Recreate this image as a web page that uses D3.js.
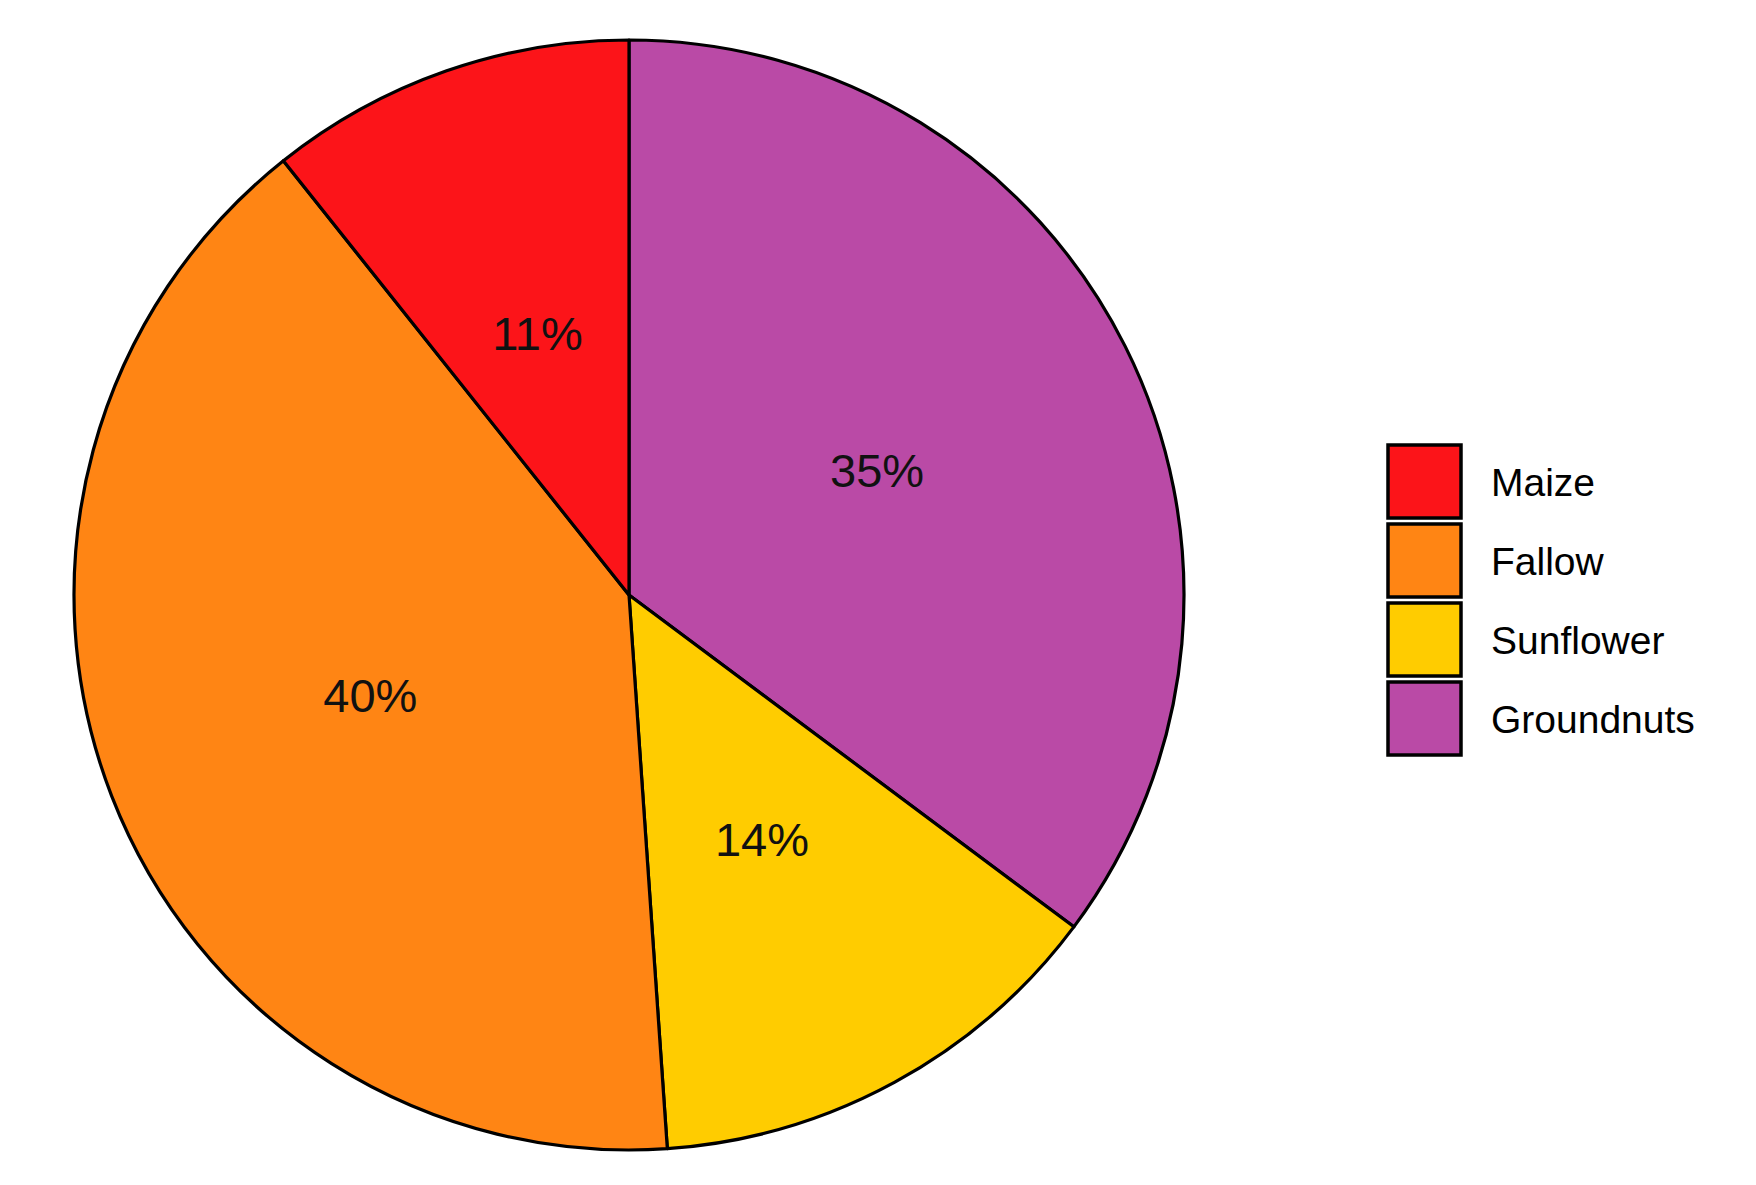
<!DOCTYPE html>
<html>
<head>
<meta charset="utf-8">
<script src="https://cdn.jsdelivr.net/npm/d3@7"></script>
<style>
  html, body { margin: 0; padding: 0; background: #fff; }
  svg { display: block; font-family: "Liberation Sans", Arial, sans-serif; }
</style>
</head>
<body>
<div id="chart"></div>
<script>
// legend order (top to bottom)
var categories = ["Maize", "Fallow", "Sunflower", "Groundnuts"];
// share of area, percent
var shares = [10.7, 40.4, 13.7, 35.2];
var colours = ["#FC1419", "#FF8514", "#FFCC00", "#BA4AA6"];

var width = 1756, height = 1185;
var cx = 629, cy = 595, radius = 555;

var svg = d3.select("#chart").append("svg")
  .attr("width", width)
  .attr("height", height);

var data = categories.map(function (c, i) {
  return { name: c, value: shares[i], colour: colours[i] };
});

// slices run clockwise from 12 o'clock in reverse legend order
var pie = d3.pie().sort(null).value(function (d) { return d.value; });
var arcs = pie(data.slice().reverse());

var arc = d3.arc().innerRadius(0).outerRadius(radius);
var labelArc = d3.arc().innerRadius(radius * 0.5).outerRadius(radius * 0.5);

var total = d3.sum(shares);

var g = svg.append("g").attr("transform", "translate(" + cx + "," + cy + ")");

g.selectAll("path.slice")
  .data(arcs)
  .enter().append("path")
  .attr("class", "slice")
  .attr("d", arc)
  .attr("fill", function (d) { return d.data.colour; })
  .attr("stroke", "#000")
  .attr("stroke-width", 3.2)
  .attr("stroke-linejoin", "round");

g.selectAll("text.lab")
  .data(arcs)
  .enter().append("text")
  .attr("class", "lab")
  .attr("transform", function (d) { return "translate(" + labelArc.centroid(d) + ")"; })
  .attr("text-anchor", "middle")
  .attr("dy", "0.36em")
  .attr("font-size", 47)
  .attr("fill", "#111")
  .text(function (d) { return Math.round(d.data.value / total * 100) + "%"; });

// legend
var legendY = d3.scaleBand()
  .domain(categories)
  .range([442, 758])
  .paddingInner(0);

var legend = svg.append("g");

var rows = legend.selectAll("g.row")
  .data(data)
  .enter().append("g")
  .attr("class", "row")
  .attr("transform", function (d) { return "translate(0," + legendY(d.name) + ")"; });

rows.append("rect")
  .attr("x", 1388)
  .attr("y", 3)
  .attr("width", 73)
  .attr("height", legendY.bandwidth() - 6)
  .attr("fill", function (d) { return d.colour; })
  .attr("stroke", "#000")
  .attr("stroke-width", 3.5);

rows.append("text")
  .attr("x", 1491)
  .attr("y", legendY.bandwidth() / 2)
  .attr("dy", "0.36em")
  .attr("font-size", 39)
  .attr("fill", "#000")
  .text(function (d) { return d.name; });
</script>
</body>
</html>
